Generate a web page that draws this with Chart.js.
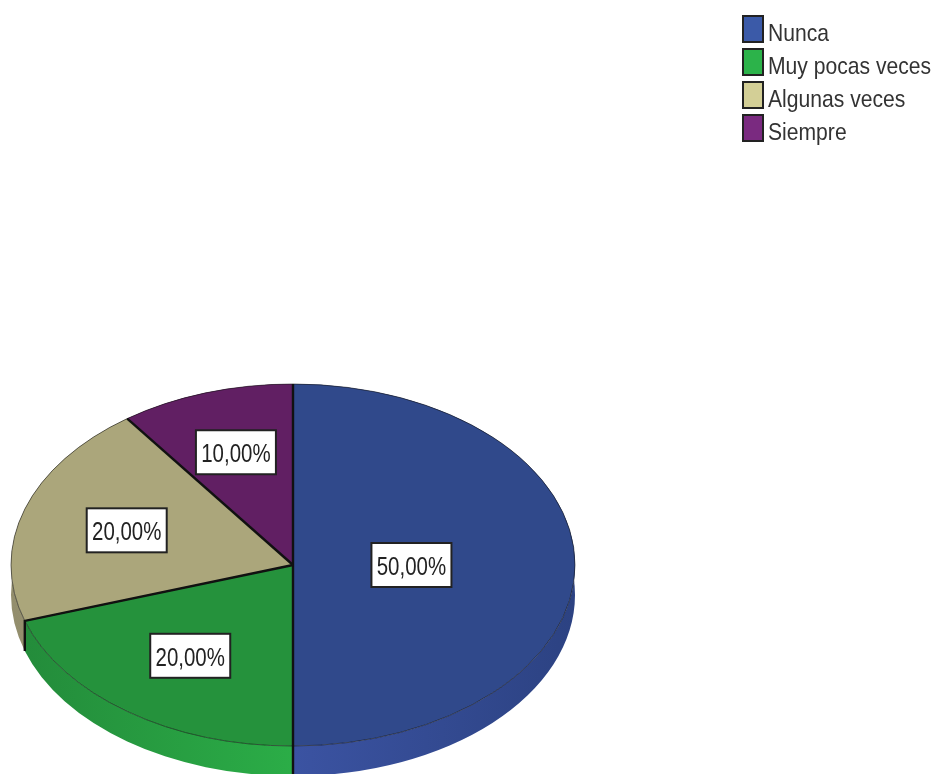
<!DOCTYPE html>
<html>
<head>
<meta charset="utf-8">
<style>
  html, body { margin: 0; padding: 0; background: #fff; overflow: hidden; }
  /* the source image is a soft, upscaled screenshot */
  #myChart { display: block; filter: blur(0.5px); }
</style>
<script src="https://cdn.jsdelivr.net/npm/chart.js@4"></script>
</head>
<body>
<canvas id="myChart" width="935" height="774"></canvas>
<script>
const categories = ['Nunca', 'Muy pocas veces', 'Algunas veces', 'Siempre'];
const percents = [50, 20, 20, 10];
const percentLabels = ['50,00%', '20,00%', '20,00%', '10,00%'];

const faceColors = ['#30498b', '#25923c', '#aba67b', '#611f63'];
const legendColors = ['#3b5aa8', '#2cb34a', '#d3cf96', '#7a2a80'];
const sideMid = ['#3b53a2', '#2bad47', '#a8a37a', '#611f63'];
const sideEdge = ['#2c4282', '#238a3a', '#938e6d', '#4c184e'];
const labelReach = [0.42, 0.62, 0.62, 0.655];

// the pie is a flat circle in Chart.js, squashed here to look like the 3D one
const pie = { x: 293, y: 565, rx: 282, ry: 181, depth: 30 };

function toScreen(angle, reach) {
  return {
    x: pie.x + Math.cos(angle) * pie.rx * reach,
    y: pie.y + Math.sin(angle) * pie.ry * reach
  };
}

const fakePie3d = {
  id: 'fakePie3d',
  beforeDatasetsDraw(chart) {
    const ctx = chart.ctx;
    const arcs = chart.getDatasetMeta(0).data;
    // side wall: a band between the face's rim and the same rim moved down
    arcs.forEach((arc, i) => {
      const grad = ctx.createLinearGradient(pie.x - pie.rx, 0, pie.x + pie.rx, 0);
      grad.addColorStop(0, sideEdge[i]);
      grad.addColorStop(0.5, sideMid[i]);
      grad.addColorStop(1, sideEdge[i]);
      ctx.fillStyle = grad;
      ctx.beginPath();
      ctx.ellipse(pie.x, pie.y + pie.depth, pie.rx, pie.ry, 0, arc.startAngle, arc.endAngle);
      ctx.ellipse(pie.x, pie.y, pie.rx, pie.ry, 0, arc.endAngle, arc.startAngle, true);
      ctx.closePath();
      ctx.fill();
    });
    const first = arcs[0];
    ctx.save();
    ctx.translate(pie.x, pie.y);
    ctx.scale(pie.rx / first.outerRadius, pie.ry / first.outerRadius);
    ctx.translate(-first.x, -first.y);
  },
  afterDatasetsDraw(chart) {
    const ctx = chart.ctx;
    ctx.restore();
    const arcs = chart.getDatasetMeta(0).data;

    ctx.strokeStyle = '#111';
    ctx.lineWidth = 2.4;
    arcs.forEach(arc => {
      const p = toScreen(arc.startAngle, 1);
      ctx.beginPath();
      ctx.moveTo(pie.x, pie.y);
      ctx.lineTo(p.x, p.y);
      // edges in front carry on down the wall
      if (Math.sin(arc.startAngle) > 0.01) ctx.lineTo(p.x, p.y + pie.depth);
      ctx.stroke();
    });

    // value boxes
    ctx.font = '22px "Liberation Sans"';
    ctx.textAlign = 'center';
    ctx.textBaseline = 'middle';
    arcs.forEach((arc, i) => {
      const mid = (arc.startAngle + arc.endAngle) / 2;
      const c = toScreen(mid, labelReach[i]);
      const w = 80, h = 44;
      ctx.fillStyle = '#fff';
      ctx.fillRect(c.x - w / 2, c.y - h / 2, w, h);
      ctx.strokeStyle = '#222';
      ctx.lineWidth = 2;
      ctx.strokeRect(c.x - w / 2, c.y - h / 2, w, h);
      ctx.fillStyle = '#222';
      ctx.save();
      ctx.translate(c.x, c.y + 3);
      ctx.scale(0.93, 1.14);
      ctx.fillText(percentLabels[i], 0, 0);
      ctx.restore();
    });
  },
  afterDraw(chart) {
    // legend sits tight to the swatches, closer than the built-in one allows
    const ctx = chart.ctx;
    ctx.font = '22px "Liberation Sans"';
    ctx.textAlign = 'left';
    ctx.textBaseline = 'middle';
    categories.forEach((name, i) => {
      const top = 16 + i * 33;
      ctx.fillStyle = legendColors[i];
      ctx.fillRect(743, top, 20, 26);
      ctx.strokeStyle = '#222';
      ctx.lineWidth = 2;
      ctx.strokeRect(743, top, 20, 26);
      ctx.fillStyle = '#333';
      ctx.save();
      ctx.translate(768, top + 18);
      ctx.scale(0.96, 1.1);
      ctx.fillText(name, 0, 0);
      ctx.restore();
    });
  }
};

new Chart(document.getElementById('myChart'), {
  type: 'pie',
  data: {
    labels: categories,
    datasets: [{
      data: percents,
      backgroundColor: faceColors,
      borderColor: 'rgba(20,20,20,0.7)',
      borderWidth: 1,
      radius: 282,
      clip: false
    }]
  },
  options: {
    responsive: false,
    animation: false,
    plugins: {
      tooltip: { enabled: false },
      legend: { display: false }
    }
  },
  plugins: [fakePie3d]
});
</script>
</body>
</html>
